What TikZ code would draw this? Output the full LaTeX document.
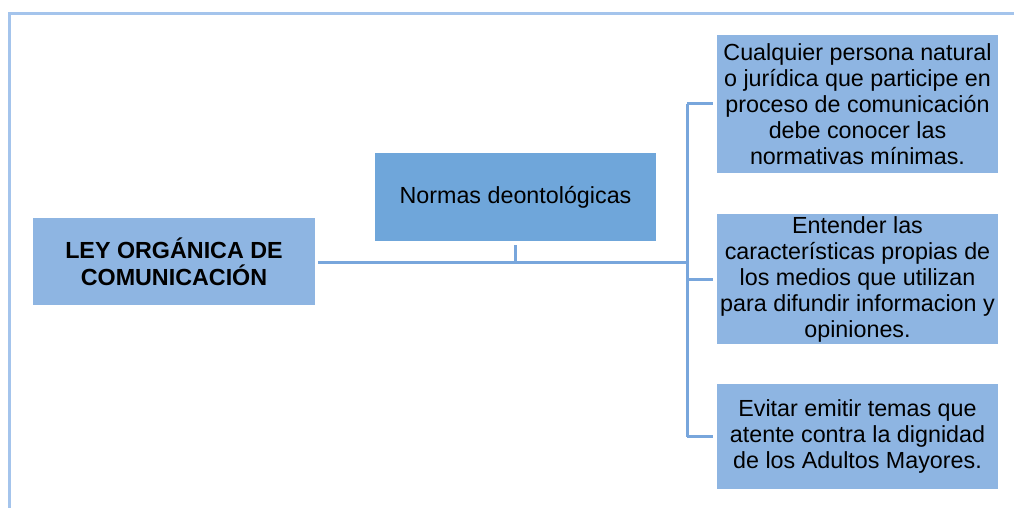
\documentclass[tikz,border=0pt]{standalone}
\usepackage{fontspec}
\setmainfont{Liberation Sans}
\definecolor{frameblue}{RGB}{164,196,236}
\definecolor{boxlight}{RGB}{142,181,226}
\definecolor{boxdark}{RGB}{111,166,218}
\definecolor{lineblue}{RGB}{120,166,220}
\begin{document}
\begin{tikzpicture}[x=1pt,y=-1pt,
  box/.style={rectangle, inner sep=0pt, align=center, text=black,
    font=\fontsize{23.3}{26}\selectfont},
  conn/.style={draw=lineblue, line width=3pt}]
\useasboundingbox (0,0) rectangle (1014,508);
\draw[frameblue, line width=3pt] (9,510) -- (9,14) -- (1016,14);
\node[box, fill=boxlight, minimum width=282pt, minimum height=87pt,
  font=\bfseries\fontsize{23.3}{27}\selectfont] (L) at (174,261.5) {LEY ORGÁNICA DE\\COMUNICACIÓN};
\node[box, fill=boxdark, minimum width=281pt, minimum height=88pt] (M) at (515.5,197) {Normas deontológicas};
\node[box, fill=boxlight, minimum width=281pt, minimum height=138pt] (R1) at (857.5,104) {Cualquier persona natural\\o jurídica que participe en\\proceso de comunicación\\debe conocer las\\normativas mínimas.};
\node[box, fill=boxlight, minimum width=281pt, minimum height=130pt] (R2) at (857.5,279) {Entender las\\características propias de\\los medios que utilizan\\para difundir informacion y\\opiniones.};
\node[box, fill=boxlight, minimum width=281pt, minimum height=105pt] (R3) at (857.5,436.5) {Evitar emitir temas que\\atente contra la dignidad\\de los Adultos Mayores.};
\coordinate (J) at (687,262);
\draw[conn, shorten <=3pt] (L.east |- J) -- (J);
\draw[conn, shorten <=4pt] (M.south) -- (M.south |- J);
\draw[conn] (J |- R1.west) -- (J |- R3.west);
\draw[conn, shorten >=4pt] (J |- R1.west) -- (R1.west);
\draw[conn, shorten >=4pt] (J |- R2.west) -- (R2.west);
\draw[conn, shorten >=4pt] (J |- R3.west) -- (R3.west);
\end{tikzpicture}
\end{document}
